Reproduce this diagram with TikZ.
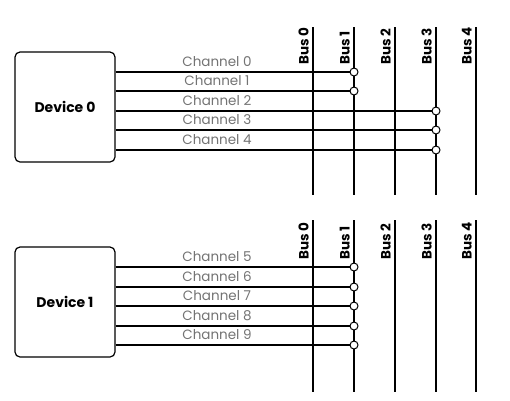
\documentclass[tikz,border=0pt]{standalone}
\usepackage{fontspec}
\setmainfont{Poppins}
\usepackage{tikz}

\begin{document}
\begin{tikzpicture}[x=1pt,y=-1pt,
  device/.style={draw,line width=1.2pt,rounded corners=5pt,minimum width=100pt,minimum height=110pt,font=\bfseries\fontsize{14}{16}\selectfont},
  busline/.style={line width=2.2pt},
  chanline/.style={line width=1.5pt},
  tap/.style={circle,draw,fill=white,line width=1pt,inner sep=0pt,minimum size=8pt},
  chanlabel/.style={text=black!55,font=\fontsize{13.5}{15}\selectfont,inner sep=0pt},
  buslabel/.style={rotate=90,anchor=south west,inner sep=0pt,font=\bfseries\fontsize{13.5}{15}\selectfont}]
\useasboundingbox (0,0) rectangle (510,400);

\node[device] (dev0) at (65,107) {Device 0};
\foreach \b/\x in {0/313,1/354,2/395,3/436,4/476}{
  \coordinate (top\b) at (\x,27);
  \coordinate (bot\b) at (\x,195);
  \draw[busline] (top\b) -- (bot\b);
  \node[buslabel] (lab\b) at (\x-4,65) {Bus \b};
}
\foreach \i/\y/\b in {0/72/1,1/91/1,2/111/3,3/130/3,4/150/3}{
  \node[tap] (tap\i) at (top\b |- 0,\y) {};
  \draw[chanline] (dev0.east |- tap\i) -- (tap\i);
  \node[chanlabel] (ch\i) at (217,\y-10) {Channel \i};
}

\node[device] (dev1) at (65,302) {Device 1};
\foreach \b/\x in {0/313,1/354,2/395,3/436,4/476}{
  \coordinate (utop\b) at (\x,220);
  \coordinate (ubot\b) at (\x,392);
  \draw[busline] (utop\b) -- (ubot\b);
  \node[buslabel] (ulab\b) at (\x-4,260) {Bus \b};
}
\foreach \i/\y in {5/267,6/287,7/306,8/326,9/345}{
  \node[tap] (tap\i) at (utop1 |- 0,\y) {};
  \draw[chanline] (dev1.east |- tap\i) -- (tap\i);
  \node[chanlabel] (ch\i) at (217,\y-10) {Channel \i};
}
\end{tikzpicture}
\end{document}
